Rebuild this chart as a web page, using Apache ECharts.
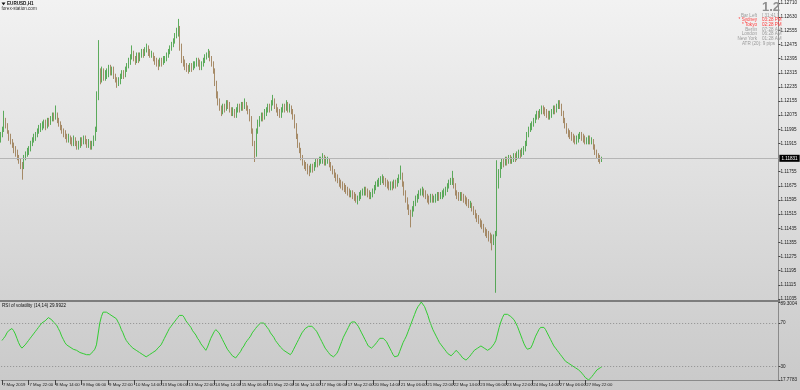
<!DOCTYPE html>
<html>
<head>
<meta charset="utf-8">
<script src="https://cdn.jsdelivr.net/npm/echarts@6/dist/echarts.min.js"></script>
<style>
html,body{margin:0;padding:0;}
#c{width:800px;height:390px;background:linear-gradient(to bottom,#f2f2f2 0%,#e2e2e2 40%,#d3d3d3 75%,#c9c9c9 100%);}
</style>
</head>
<body>
<div id="c"></div>
<script>
// ---- DATA ----
const symbolTitle = "EURUSD,H1";
const sourceText = "forex-station.com";
const rsiTitle = "RSI of volatility (14,14) 29.9922";
const currentPrice = 1.11831;

// time-axis tick labels (one every 16 H1 bars)
const xTickLabels = ["7 May 2019","7 May 22:00","8 May 14:00","9 May 06:00","9 May 22:00","10 May 14:00","13 May 06:00","13 May 22:00","14 May 14:00","15 May 06:00","15 May 22:00","16 May 14:00","17 May 06:00","17 May 22:00","20 May 14:00","21 May 06:00","21 May 22:00","22 May 14:00","23 May 06:00","23 May 22:00","24 May 14:00","27 May 06:00","27 May 22:00"];
const barsPerTick = 16;
const totalSlots = 469;

const priceTicks = [1.12710,1.12630,1.12555,1.12475,1.12395,1.12315,1.12235,1.12155,1.12075,1.11995,1.11915,1.11755,1.11675,1.11595,1.11515,1.11435,1.11355,1.11275,1.11195,1.11115,1.11035];
const priceMin = 1.11029, priceMax = 1.12727;
const rsiTicks = [89.3004,70,30,17.7783];
const rsiMin = 17.7783, rsiMax = 89.3004;
const rsiLevels = [70,30];

const infoLabels = ["Bar Left","* Sydney","* Tokyo","Berlin","London","New York"];
const infoValues = ["[ 31:41 ]","03:28 PM","02:28 PM","07:28 AM","06:28 AM","01:28 AM"];
const infoRed = [false,true,true,false,false,false];
const bigValue = "1.2";
const atrText = "ATR (20): 9 pips";

// [open, close, low, high]
const ohlc = [
[1.1194,1.1196,1.1192,1.1198],[1.1196,1.1199,1.1195,1.1201],[1.1199,1.1204,1.1198,1.1210],[1.1204,1.1202,1.1200,1.1206],[1.1202,1.1198,1.1197,1.1203],
[1.1198,1.1195,1.1193,1.1199],[1.1195,1.1193,1.1191,1.1197],[1.1193,1.1191,1.1189,1.1194],[1.1191,1.1188,1.1186,1.1192],[1.1188,1.1186,1.1184,1.1190],
[1.1186,1.1184,1.1182,1.1188],[1.1184,1.1182,1.1180,1.1185],[1.1182,1.1180,1.1177,1.1183],[1.1180,1.1179,1.1171,1.1181],[1.1179,1.1183,1.1177,1.1185],
[1.1183,1.1185,1.1182,1.1187],[1.1185,1.1187,1.1184,1.1189],[1.1187,1.1188,1.1185,1.1190],[1.1188,1.1191,1.1187,1.1193],[1.1191,1.1193,1.1190,1.1195],
[1.1193,1.1195,1.1192,1.1197],[1.1195,1.1196,1.1193,1.1198],[1.1196,1.1198,1.1195,1.1200],[1.1198,1.1200,1.1197,1.1202],[1.1200,1.1201,1.1198,1.1203],
[1.1201,1.1202,1.1199,1.1204],[1.1202,1.1203,1.1200,1.1205],[1.1203,1.1201,1.1199,1.1205],[1.1201,1.1204,1.1200,1.1206],[1.1204,1.1203,1.1201,1.1206],
[1.1203,1.1205,1.1202,1.1207],[1.1205,1.1207,1.1204,1.1209],[1.1207,1.1206,1.1204,1.1209],[1.1206,1.1208,1.1205,1.1213],[1.1208,1.1205,1.1203,1.1209],
[1.1205,1.1203,1.1201,1.1206],[1.1203,1.1201,1.1199,1.1204],[1.1201,1.1199,1.1197,1.1202],[1.1199,1.1197,1.1195,1.1200],[1.1197,1.1196,1.1194,1.1199],
[1.1196,1.1194,1.1192,1.1197],[1.1194,1.1195,1.1192,1.1197],[1.1195,1.1193,1.1191,1.1196],[1.1193,1.1192,1.1190,1.1195],[1.1192,1.1194,1.1190,1.1196],
[1.1194,1.1192,1.1190,1.1195],[1.1192,1.1190,1.1188,1.1193],[1.1190,1.1191,1.1188,1.1193],[1.1191,1.1193,1.1189,1.1195],[1.1193,1.1192,1.1190,1.1195],
[1.1192,1.1194,1.1191,1.1196],[1.1194,1.1193,1.1191,1.1196],[1.1193,1.1191,1.1189,1.1194],[1.1191,1.1192,1.1189,1.1194],[1.1192,1.1190,1.1188,1.1193],
[1.1190,1.1191,1.1188,1.1193],[1.1191,1.1194,1.1190,1.1196],[1.1194,1.1199,1.1193,1.1201],[1.1199,1.1218,1.1198,1.1221],[1.1218,1.1230,1.1216,1.1250],
[1.1230,1.1228,1.1225,1.1234],[1.1228,1.1232,1.1226,1.1235],[1.1232,1.1229,1.1227,1.1234],[1.1229,1.1230,1.1227,1.1233],[1.1230,1.1231,1.1228,1.1234],
[1.1231,1.1234,1.1229,1.1236],[1.1234,1.1232,1.1230,1.1236],[1.1232,1.1233,1.1230,1.1235],[1.1233,1.1230,1.1228,1.1235],[1.1230,1.1228,1.1226,1.1231],
[1.1228,1.1226,1.1223,1.1229],[1.1226,1.1227,1.1224,1.1229],[1.1227,1.1229,1.1225,1.1231],[1.1229,1.1231,1.1228,1.1233],[1.1231,1.1230,1.1228,1.1233],
[1.1230,1.1233,1.1229,1.1235],[1.1233,1.1235,1.1232,1.1237],[1.1235,1.1238,1.1234,1.1240],[1.1238,1.1240,1.1236,1.1242],[1.1240,1.1242,1.1239,1.1247],
[1.1242,1.1240,1.1238,1.1244],[1.1240,1.1238,1.1236,1.1241],[1.1238,1.1241,1.1237,1.1243],[1.1241,1.1239,1.1237,1.1243],[1.1239,1.1241,1.1238,1.1243],
[1.1241,1.1243,1.1240,1.1245],[1.1243,1.1242,1.1240,1.1245],[1.1242,1.1244,1.1241,1.1246],[1.1244,1.1245,1.1243,1.1248],[1.1245,1.1243,1.1241,1.1247],
[1.1243,1.1242,1.1240,1.1245],[1.1242,1.1242,1.1240,1.1244],[1.1242,1.1240,1.1238,1.1243],[1.1240,1.1238,1.1236,1.1241],[1.1238,1.1237,1.1235,1.1240],
[1.1237,1.1236,1.1233,1.1239],[1.1236,1.1238,1.1235,1.1240],[1.1238,1.1237,1.1235,1.1240],[1.1237,1.1239,1.1236,1.1241],[1.1239,1.1239,1.1237,1.1241],
[1.1239,1.1241,1.1238,1.1243],[1.1241,1.1243,1.1240,1.1245],[1.1243,1.1245,1.1242,1.1247],[1.1245,1.1247,1.1244,1.1249],[1.1247,1.1249,1.1246,1.1251],
[1.1249,1.1252,1.1248,1.1254],[1.1252,1.1254,1.1251,1.1257],[1.1254,1.1256,1.1252,1.1262],[1.1256,1.1246,1.1244,1.1258],[1.1246,1.1239,1.1237,1.1248],
[1.1239,1.1237,1.1235,1.1241],[1.1237,1.1235,1.1233,1.1239],[1.1235,1.1234,1.1232,1.1237],[1.1234,1.1233,1.1231,1.1236],[1.1233,1.1235,1.1232,1.1237],
[1.1235,1.1234,1.1232,1.1237],[1.1234,1.1236,1.1233,1.1238],[1.1236,1.1236,1.1234,1.1238],[1.1236,1.1238,1.1235,1.1240],[1.1238,1.1237,1.1235,1.1240],
[1.1237,1.1235,1.1233,1.1239],[1.1235,1.1236,1.1233,1.1238],[1.1236,1.1238,1.1235,1.1240],[1.1238,1.1240,1.1237,1.1242],[1.1240,1.1241,1.1239,1.1243],
[1.1241,1.1242,1.1240,1.1245],[1.1242,1.1240,1.1238,1.1244],[1.1240,1.1237,1.1235,1.1241],[1.1237,1.1233,1.1231,1.1238],[1.1233,1.1226,1.1224,1.1234],
[1.1226,1.1219,1.1217,1.1227],[1.1219,1.1215,1.1213,1.1221],[1.1215,1.1212,1.1210,1.1217],[1.1212,1.1210,1.1207,1.1213],[1.1210,1.1212,1.1208,1.1214],
[1.1212,1.1211,1.1209,1.1214],[1.1211,1.1214,1.1210,1.1216],[1.1214,1.1213,1.1211,1.1216],[1.1213,1.1211,1.1209,1.1215],[1.1211,1.1209,1.1207,1.1212],
[1.1209,1.1210,1.1207,1.1212],[1.1210,1.1208,1.1206,1.1211],[1.1208,1.1210,1.1206,1.1212],[1.1210,1.1212,1.1209,1.1214],[1.1212,1.1211,1.1209,1.1214],
[1.1211,1.1213,1.1210,1.1215],[1.1213,1.1212,1.1210,1.1215],[1.1212,1.1214,1.1211,1.1217],[1.1214,1.1212,1.1210,1.1215],[1.1212,1.1210,1.1208,1.1213],
[1.1210,1.1206,1.1204,1.1211],[1.1206,1.1199,1.1197,1.1207],[1.1199,1.1192,1.1190,1.1200],[1.1192,1.1185,1.1181,1.1193],[1.1185,1.1198,1.1184,1.1200],
[1.1198,1.1203,1.1197,1.1205],[1.1203,1.1205,1.1201,1.1207],[1.1205,1.1207,1.1204,1.1209],[1.1207,1.1206,1.1204,1.1209],[1.1206,1.1209,1.1205,1.1211],
[1.1209,1.1210,1.1207,1.1212],[1.1210,1.1212,1.1209,1.1214],[1.1212,1.1211,1.1209,1.1214],[1.1211,1.1214,1.1210,1.1216],[1.1214,1.1216,1.1213,1.1219],
[1.1216,1.1213,1.1211,1.1217],[1.1213,1.1211,1.1209,1.1214],[1.1211,1.1209,1.1207,1.1212],[1.1209,1.1208,1.1206,1.1211],[1.1208,1.1210,1.1206,1.1212],
[1.1210,1.1212,1.1209,1.1214],[1.1212,1.1211,1.1209,1.1214],[1.1211,1.1213,1.1210,1.1216],[1.1213,1.1211,1.1209,1.1215],[1.1211,1.1212,1.1209,1.1214],
[1.1212,1.1210,1.1208,1.1213],[1.1210,1.1207,1.1205,1.1211],[1.1207,1.1202,1.1200,1.1208],[1.1202,1.1196,1.1194,1.1203],[1.1196,1.1191,1.1189,1.1197],
[1.1191,1.1188,1.1186,1.1192],[1.1188,1.1184,1.1182,1.1189],[1.1184,1.1181,1.1179,1.1185],[1.1181,1.1179,1.1177,1.1182],[1.1179,1.1178,1.1176,1.1181],
[1.1178,1.1177,1.1174,1.1180],[1.1177,1.1176,1.1173,1.1179],[1.1176,1.1178,1.1175,1.1180],[1.1178,1.1177,1.1175,1.1180],[1.1177,1.1179,1.1176,1.1181],
[1.1179,1.1181,1.1178,1.1183],[1.1181,1.1180,1.1178,1.1183],[1.1180,1.1182,1.1179,1.1184],[1.1182,1.1182,1.1180,1.1184],[1.1182,1.1183,1.1180,1.1186],
[1.1183,1.1181,1.1179,1.1185],[1.1181,1.1182,1.1179,1.1184],[1.1182,1.1182,1.1180,1.1184],[1.1182,1.1180,1.1178,1.1183],[1.1180,1.1178,1.1176,1.1181],
[1.1178,1.1176,1.1174,1.1179],[1.1176,1.1174,1.1172,1.1177],[1.1174,1.1172,1.1170,1.1175],[1.1172,1.1171,1.1169,1.1174],[1.1171,1.1169,1.1167,1.1172],
[1.1169,1.1168,1.1166,1.1171],[1.1168,1.1167,1.1165,1.1170],[1.1167,1.1166,1.1164,1.1169],[1.1166,1.1165,1.1163,1.1168],[1.1165,1.1164,1.1162,1.1167],
[1.1164,1.1163,1.1161,1.1166],[1.1163,1.1163,1.1161,1.1165],[1.1163,1.1162,1.1160,1.1165],[1.1162,1.1161,1.1159,1.1164],[1.1161,1.1160,1.1158,1.1163],
[1.1160,1.1160,1.1157,1.1162],[1.1160,1.1162,1.1159,1.1164],[1.1162,1.1163,1.1160,1.1165],[1.1163,1.1164,1.1162,1.1166],[1.1164,1.1165,1.1162,1.1167],
[1.1165,1.1164,1.1162,1.1167],[1.1164,1.1163,1.1161,1.1166],[1.1163,1.1162,1.1160,1.1165],[1.1162,1.1162,1.1160,1.1164],[1.1162,1.1164,1.1161,1.1166],
[1.1164,1.1166,1.1163,1.1168],[1.1166,1.1168,1.1165,1.1170],[1.1168,1.1169,1.1167,1.1171],[1.1169,1.1170,1.1167,1.1172],[1.1170,1.1171,1.1168,1.1173],
[1.1171,1.1171,1.1169,1.1174],[1.1171,1.1170,1.1168,1.1173],[1.1170,1.1169,1.1167,1.1172],[1.1169,1.1168,1.1166,1.1171],[1.1168,1.1167,1.1165,1.1170],
[1.1167,1.1168,1.1165,1.1170],[1.1168,1.1167,1.1165,1.1170],[1.1167,1.1169,1.1166,1.1171],[1.1169,1.1168,1.1166,1.1171],[1.1168,1.1170,1.1167,1.1172],
[1.1170,1.1172,1.1169,1.1174],[1.1172,1.1174,1.1171,1.1179],[1.1174,1.1169,1.1167,1.1175],[1.1169,1.1164,1.1162,1.1170],[1.1164,1.1160,1.1158,1.1165],
[1.1160,1.1156,1.1154,1.1161],[1.1156,1.1153,1.1151,1.1157],[1.1153,1.1151,1.1144,1.1154],[1.1151,1.1154,1.1150,1.1156],[1.1154,1.1157,1.1153,1.1159],
[1.1157,1.1160,1.1156,1.1162],[1.1160,1.1161,1.1158,1.1163],[1.1161,1.1163,1.1160,1.1165],[1.1163,1.1164,1.1162,1.1166],[1.1164,1.1165,1.1162,1.1167],
[1.1165,1.1163,1.1161,1.1166],[1.1163,1.1162,1.1160,1.1165],[1.1162,1.1160,1.1158,1.1163],[1.1160,1.1159,1.1157,1.1162],[1.1159,1.1161,1.1158,1.1163],
[1.1161,1.1160,1.1158,1.1163],[1.1160,1.1160,1.1158,1.1162],[1.1160,1.1161,1.1158,1.1163],[1.1161,1.1162,1.1159,1.1164],[1.1162,1.1161,1.1159,1.1164],
[1.1161,1.1162,1.1160,1.1164],[1.1162,1.1163,1.1160,1.1165],[1.1163,1.1164,1.1161,1.1166],[1.1164,1.1165,1.1162,1.1167],[1.1165,1.1167,1.1164,1.1169],
[1.1167,1.1169,1.1166,1.1171],[1.1169,1.1170,1.1168,1.1172],[1.1170,1.1171,1.1168,1.1176],[1.1171,1.1168,1.1166,1.1172],[1.1168,1.1164,1.1162,1.1169],
[1.1164,1.1162,1.1160,1.1165],[1.1162,1.1161,1.1159,1.1164],[1.1161,1.1162,1.1159,1.1164],[1.1162,1.1161,1.1159,1.1164],[1.1161,1.1160,1.1158,1.1163],
[1.1160,1.1159,1.1157,1.1162],[1.1159,1.1158,1.1156,1.1161],[1.1158,1.1157,1.1155,1.1160],[1.1157,1.1157,1.1155,1.1159],[1.1157,1.1155,1.1153,1.1158],
[1.1155,1.1153,1.1151,1.1156],[1.1153,1.1151,1.1149,1.1154],[1.1151,1.1149,1.1147,1.1152],[1.1149,1.1148,1.1146,1.1151],[1.1148,1.1146,1.1144,1.1149],
[1.1146,1.1145,1.1143,1.1148],[1.1145,1.1143,1.1141,1.1146],[1.1143,1.1141,1.1139,1.1144],[1.1141,1.1140,1.1138,1.1143],[1.1140,1.1139,1.1136,1.1142],
[1.1139,1.1138,1.1135,1.1141],[1.1138,1.1137,1.1131,1.1140],[1.1137,1.1138,1.1134,1.1140],[1.1138,1.1140,1.1107,1.1142],[1.1140,1.1168,1.1139,1.1182],
[1.1168,1.1174,1.1166,1.1177],[1.1174,1.1179,1.1172,1.1181],[1.1179,1.1181,1.1177,1.1183],[1.1181,1.1180,1.1178,1.1183],[1.1180,1.1182,1.1179,1.1184],
[1.1182,1.1181,1.1179,1.1184],[1.1181,1.1183,1.1180,1.1185],[1.1183,1.1182,1.1180,1.1185],[1.1182,1.1182,1.1180,1.1184],[1.1182,1.1184,1.1181,1.1186],
[1.1184,1.1183,1.1181,1.1186],[1.1183,1.1185,1.1182,1.1187],[1.1185,1.1186,1.1183,1.1188],[1.1186,1.1185,1.1183,1.1188],[1.1185,1.1187,1.1184,1.1189],
[1.1187,1.1188,1.1185,1.1190],[1.1188,1.1191,1.1187,1.1193],[1.1191,1.1196,1.1190,1.1198],[1.1196,1.1199,1.1195,1.1201],[1.1199,1.1201,1.1198,1.1203],
[1.1201,1.1202,1.1199,1.1204],[1.1202,1.1204,1.1201,1.1206],[1.1204,1.1206,1.1203,1.1208],[1.1206,1.1208,1.1205,1.1210],[1.1208,1.1207,1.1205,1.1210],
[1.1207,1.1209,1.1206,1.1211],[1.1209,1.1211,1.1208,1.1213],[1.1211,1.1210,1.1208,1.1213],[1.1210,1.1209,1.1207,1.1212],[1.1209,1.1208,1.1206,1.1211],
[1.1208,1.1207,1.1205,1.1210],[1.1207,1.1208,1.1205,1.1210],[1.1208,1.1209,1.1206,1.1211],[1.1209,1.1211,1.1208,1.1213],[1.1211,1.1210,1.1208,1.1213],
[1.1210,1.1212,1.1209,1.1214],[1.1212,1.1214,1.1211,1.1216],[1.1214,1.1213,1.1211,1.1216],[1.1213,1.1209,1.1207,1.1214],[1.1209,1.1205,1.1203,1.1210],
[1.1205,1.1202,1.1200,1.1206],[1.1202,1.1199,1.1197,1.1203],[1.1199,1.1197,1.1195,1.1200],[1.1197,1.1196,1.1194,1.1199],[1.1196,1.1195,1.1193,1.1198],
[1.1195,1.1194,1.1192,1.1197],[1.1194,1.1193,1.1191,1.1196],[1.1193,1.1194,1.1191,1.1196],[1.1194,1.1195,1.1192,1.1197],[1.1195,1.1196,1.1194,1.1198],
[1.1196,1.1195,1.1193,1.1198],[1.1195,1.1194,1.1192,1.1197],[1.1194,1.1193,1.1191,1.1196],[1.1193,1.1193,1.1191,1.1195],[1.1193,1.1194,1.1191,1.1196],
[1.1194,1.1193,1.1191,1.1196],[1.1193,1.1193,1.1191,1.1195],[1.1193,1.1190,1.1188,1.1194],[1.1190,1.1187,1.1185,1.1191],[1.1187,1.1185,1.1183,1.1188],
[1.1185,1.1183,1.1181,1.1186],[1.1183,1.1182,1.1180,1.1185],[1.1182,1.11831,1.1181,1.1184]
];

const rsi = [
54,56,58,61,63,64,65,63,60,56,52,49,47,
48,50,52,54,56,58,60,62,64,
66,68,70,71,72,73,75,
74,73,71,70,68,
65,62,58,55,52,50,
49,48,47,46,46,45,
44,43,42,42,41,41,40,
41,42,44,46,50,
60,70,76,80,
81,80,79,78,77,
76,76,74,
71,68,64,61,57,54,
52,50,49,47,46,45,
44,43,42,41,40,39,
40,41,42,43,44,45,47,48,50,
53,56,59,62,65,67,69,71,73,
75,77,78,77,
75,72,70,68,66,63,61,59,
56,54,51,49,47,45,
48,52,56,59,62,64,
63,61,58,55,52,49,46,44,42,40,39,38,
40,42,44,47,49,52,54,56,58,61,63,65,67,68,70,71,
70,68,66,64,61,59,57,54,
52,50,48,47,45,44,43,42,41,
43,46,49,52,55,58,61,63,65,
66,67,68,67,66,64,
62,59,56,53,50,47,45,43,41,40,39,
40,42,45,49,53,57,
60,63,66,69,71,72,
71,69,67,64,61,58,55,52,
49,48,47,48,50,52,54,56,
57,56,55,53,50,47,
44,41,39,38,40,44,
48,52,55,58,62,66,70,
74,78,82,85,87,89.3,88,
85,81,77,72,68,64,
61,58,55,52,50,48,46,44,
42,41,40,41,43,45,44,42,
40,38,37,36,37,39,41,43,45,
46,47,48,49,48,47,46,45,46,47,
49,51,54,60,66,71,75,78,79,
78,77,76,75,73,70,67,
63,59,55,51,48,46,45,
47,50,54,58,61,64,66,67,
66,64,61,58,55,52,49,
47,45,43,41,39,37,35,
34,33,32,31,30,29,28,27,
26,24,22,20,19,17.8,19,
21,23,25,27,28,29,29.99
];

// ---- CHART ----
const slots = Array.from({length: totalSlots}, (_, i) => String(i));
const FONT = "'Liberation Sans', Arial, sans-serif";
const FS = 4.6;
const FSX = 4.3;
const showTick = (idx) => idx % barsPerTick === 0 && (idx / barsPerTick) < xTickLabels.length;

const chart = echarts.init(document.getElementById('c'), null, {renderer: 'canvas'});

const graphics = [
  {type:'rect', shape:{x:0,y:300,width:780,height:2}, style:{fill:'#7d7d7d'}, z:50},
  {type:'polygon', shape:{points:[[1.5,2.5],[5.5,2.5],[3.5,5.2]]}, style:{fill:'#111'}, z:50},
  {type:'text', x:7, y:4, style:{text:symbolTitle, font:'bold '+FS+'px '+FONT, fill:'#111', textVerticalAlign:'middle'}, z:50},
  {type:'text', x:1.5, y:8.6, style:{text:sourceText, font:FS+'px '+FONT, fill:'#333', textVerticalAlign:'middle'}, z:50},
  {type:'text', x:2, y:305.5, style:{text:rsiTitle, font:FS+'px '+FONT, fill:'#111', textVerticalAlign:'middle'}, z:50},
  {type:'text', x:780, y:7, style:{text:bigValue, font:'bold 13px '+FONT, fill:'#8e8e8e', textAlign:'right', textVerticalAlign:'middle'}, z:50},
  {type:'text', x:775, y:43.3, style:{text:atrText, font:FS+'px '+FONT, fill:'#9a9a9a', textAlign:'right', textVerticalAlign:'middle'}, z:50}
];
infoLabels.forEach((lab, k) => {
  const y = 15.7 + k * 4.52;
  const col = infoRed[k] ? '#ff3a3a' : '#9a9a9a';
  graphics.push({type:'text', x:757, y:y, style:{text:lab, font:FS+'px '+FONT, fill:col, textAlign:'right', textVerticalAlign:'middle'}, z:50});
  graphics.push({type:'text', x:762, y:y, style:{text:infoValues[k], font:FS+'px '+FONT, fill:col, textAlign:'left', textVerticalAlign:'middle'}, z:50});
});

chart.setOption({
  animation: false,
  backgroundColor: 'transparent',
  textStyle: {fontFamily: FONT},
  grid: [
    {left:0, top:0, width:780, height:300},
    {left:0, top:302, width:780, height:78}
  ],
  xAxis: [
    {type:'category', gridIndex:0, data:slots, boundaryGap:true,
     axisLine:{show:false}, axisTick:{show:false}, axisLabel:{show:false}, splitLine:{show:false}},
    {type:'category', gridIndex:1, data:slots, boundaryGap:true,
     axisLine:{show:true, lineStyle:{color:'#8a8a8a', width:1}},
     axisTick:{show:true, alignWithLabel:true, length:5, interval:(i)=>showTick(i), lineStyle:{color:'#444', width:1}},
     axisLabel:{show:true, interval:(i)=>showTick(i), formatter:(v, i)=>xTickLabels[Math.round(i / barsPerTick)],
       fontSize:FSX, color:'#1a1a1a', align:'left', margin:3, fontFamily:FONT, padding:[0,0,0,1]},
     splitLine:{show:false}}
  ],
  yAxis: [
    {type:'value', gridIndex:0, position:'right', min:priceMin, max:priceMax, scale:true,
     axisLine:{show:true, lineStyle:{color:'#8a8a8a', width:1}},
     axisTick:{show:true, customValues:priceTicks, length:2, lineStyle:{color:'#444'}},
     axisLabel:{show:true, customValues:priceTicks, formatter:(v)=>v.toFixed(5), fontSize:FS, color:'#1a1a1a', margin:2, fontFamily:FONT},
     splitLine:{show:false}},
    {type:'value', gridIndex:1, position:'right', min:rsiMin, max:rsiMax,
     axisLine:{show:true, lineStyle:{color:'#8a8a8a', width:1}},
     axisTick:{show:true, customValues:rsiTicks, length:2, lineStyle:{color:'#444'}},
     axisLabel:{show:true, customValues:rsiTicks, fontSize:FS, color:'#1a1a1a', margin:2, fontFamily:FONT,
       formatter:(v)=> v === rsiMax ? '{t|' + String(v) + '}' : String(v),
       rich:{t:{fontSize:FS, color:'#1a1a1a', padding:[4,0,0,0]}}},
     splitLine:{show:false}}
  ],
  series: [
    {type:'candlestick', xAxisIndex:0, yAxisIndex:0, data:ohlc, barWidth:1.2,
     itemStyle:{color:'#379a37', color0:'#957348', borderColor:'#379a37', borderColor0:'#957348', borderWidth:0.8}},
    {type:'line', name:'bid', xAxisIndex:0, yAxisIndex:0, data:[], showSymbol:false,
     markLine:{silent:true, symbol:['none','none'], animation:false, precision:5,
       lineStyle:{color:'#b5b5b5', width:1, type:'solid'},
       label:{show:true, position:'end', distance:1, formatter:()=>currentPrice.toFixed(5),
         backgroundColor:'#000', color:'#fff', fontSize:FS, padding:[1,2,1,2], fontFamily:FONT},
       data:[{yAxis:currentPrice}]}},
    {type:'line', xAxisIndex:1, yAxisIndex:1, data:rsi, showSymbol:false, symbol:'none',
     lineStyle:{color:'#33cc33', width:1}, clip:true,
     markLine:{silent:true, symbol:['none','none'], animation:false, precision:4,
       lineStyle:{color:'#8f8f8f', width:1, type:[1,2]}, label:{show:false},
       data: rsiLevels.map(v => ({yAxis:v}))}}
  ],
  graphic: graphics
});
</script>
</body>
</html>
